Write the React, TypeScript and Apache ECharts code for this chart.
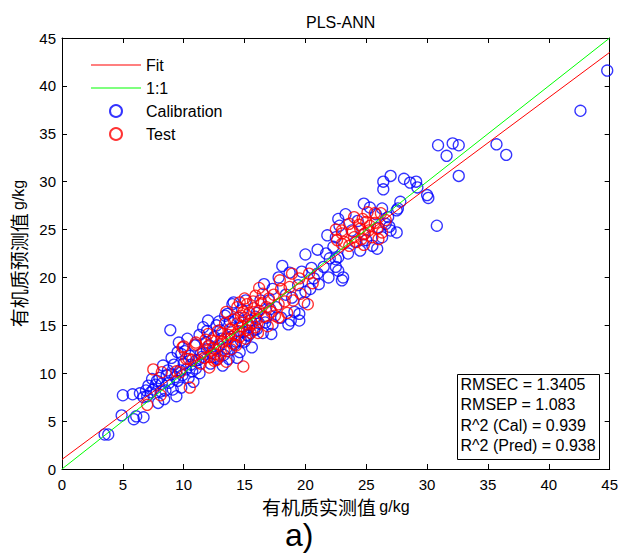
import React, { useEffect, useRef } from "react";
import * as echarts from "echarts";

const FONT = "'Liberation Sans', Arial, 'Noto Sans CJK SC', sans-serif";
const CJK = "'Noto Sans CJK SC', 'Liberation Sans', sans-serif";

const chartTitle = "PLS-ANN";
const xName = "有机质实测值";
const yName = "有机质预测值";
const unit = "g/kg";
const legendNames = ["Fit", "1:1", "Calibration", "Test"];
const statsLines = [
  "RMSEC = 1.3405",
  "RMSEP = 1.083",
  "R^2 (Cal) = 0.939",
  "R^2 (Pred) = 0.938",
];
const panelLabel = "a)";

const axisMin = 0;
const axisMax = 45;
const axisStep = 5;

const fitLine = [
  [0, 1.0],
  [45, 43.5],
];
const identityLine = [
  [0, 0],
  [45, 45],
];

const calibration = [
  [3.5, 3.6], [3.8, 3.6], [4.9, 5.6], [5.9, 5.2], [6.7, 5.4], [6.1, 5.5],
  [5.0, 7.7], [5.8, 7.8], [6.4, 7.9], [6.7, 7.5], [7.1, 8.7], [7.5, 8.3], [7.9, 6.9], [8.4, 7.3], [9.4, 7.6], [8.2, 8.9],
  [8.9, 14.5], [9.6, 13.2], [9.0, 11.6], [8.7, 10.3], [9.3, 9.6], [9.7, 10.3], [9.8, 8.5], [7.3, 8.0], [7.0, 7.6], [7.7, 8.8],
  [8.5, 8.2], [8.8, 9.0], [9.1, 8.3], [8.0, 9.5], [8.6, 9.8], [9.5, 9.2], [9.9, 9.8], [10.2, 10.4], [9.2, 10.9], [10.0, 11.0],
  [10.4, 9.5], [10.7, 10.2], [10.1, 12.3], [10.5, 11.8], [9.5, 12.2], [10.9, 12.9], [11.2, 11.4], [11.0, 10.5], [8.3, 10.8],
  [7.8, 9.2], [6.9, 8.2], [10.3, 13.6], [9.8, 12.0], [10.8, 9.1], [11.3, 10.0], [9.0, 9.9], [8.1, 8.1], [7.4, 9.4],
  [11.6, 14.8], [12.7, 15.0], [12.0, 15.5], [11.3, 14.0], [11.8, 13.2], [12.3, 12.1], [12.8, 11.5], [13.2, 10.8], [13.5, 12.6],
  [12.5, 13.8], [13.0, 14.5], [13.8, 15.4], [14.1, 17.4], [14.0, 17.2], [13.6, 16.2], [14.5, 15.8], [14.8, 16.6], [15.1, 17.6],
  [16.3, 17.6], [15.6, 12.7], [14.6, 12.2], [14.2, 13.0], [15.2, 14.0], [15.8, 14.5], [16.2, 15.2], [16.8, 15.8], [17.3, 15.1],
  [18.0, 15.8], [18.6, 15.1], [17.1, 16.7], [16.0, 16.3], [15.5, 15.5], [14.9, 14.3], [13.9, 13.8], [12.9, 12.8], [11.9, 12.5],
  [12.2, 11.0], [11.4, 12.0], [13.3, 11.9], [14.4, 11.6], [15.0, 13.3], [16.5, 14.2], [17.6, 16.9], [17.0, 17.6], [12.5, 11.7],
  [13.6, 12.3], [14.3, 13.3], [15.3, 13.9], [16.0, 14.6], [16.7, 15.3], [11.0, 11.3], [10.6, 10.9], [12.9, 15.4], [13.4, 16.0],
  [11.9, 14.4], [17.2, 14.1], [18.8, 15.5], [19.5, 16.2], [12.1, 12.9], [13.1, 13.6], [14.0, 14.7], [14.7, 13.4], [15.4, 14.8],
  [13.7, 11.5], [12.6, 12.5], [11.5, 11.7], [14.8, 15.3], [15.9, 15.9],
  [16.6, 19.3], [17.3, 18.8], [17.8, 20.0], [18.1, 21.2], [18.7, 20.5], [18.4, 18.2], [19.1, 16.4], [19.5, 15.5], [19.9, 17.4],
  [18.9, 17.9], [19.4, 19.2], [20.0, 18.5], [20.4, 18.8], [21.1, 19.3], [21.0, 20.4], [21.5, 21.1], [21.9, 20.0], [22.7, 20.7],
  [23.0, 19.7], [22.0, 22.0], [20.0, 22.4], [21.0, 22.9], [21.7, 22.5], [22.5, 21.9], [21.8, 24.4], [22.3, 23.2], [22.7, 22.1],
  [22.5, 21.1], [23.1, 20.0], [22.7, 26.1], [22.5, 24.2], [22.8, 25.4], [20.5, 21.0], [19.7, 20.6], [20.7, 19.9],
  [24.1, 23.7], [25.5, 23.3], [26.3, 24.2], [26.6, 25.6], [26.8, 26.3], [24.8, 27.7], [27.8, 27.9], [27.5, 27.0], [30.8, 25.4],
  [27.0, 24.9], [27.5, 24.7], [26.3, 27.2], [27.0, 30.6], [26.4, 30.0], [26.4, 29.2], [28.1, 30.3], [28.6, 29.9], [29.1, 30.0],
  [29.2, 29.4], [30.0, 28.6], [30.1, 28.3], [30.9, 33.8], [32.1, 34.0], [32.6, 33.8], [31.6, 32.7], [35.7, 33.9], [36.5, 32.8],
  [32.6, 30.6], [42.6, 37.4], [44.8, 41.6], [23.5, 22.5], [24.5, 22.8], [25.0, 23.9], [26.0, 25.2], [25.8, 26.6], [26.9, 25.3],
  [23.8, 24.9], [24.3, 25.9], [25.3, 27.3], [23.3, 26.6], [25.9, 23.0], [24.8, 24.5], [27.6, 27.2],
];

const test = [
  [7.5, 10.4], [8.2, 10.1], [7.0, 6.7], [8.1, 7.7], [9.7, 10.1], [10.0, 12.8], [10.4, 11.5], [10.5, 8.5], [14.9, 10.7],
  [11.0, 13.2], [9.9, 12.7], [10.2, 11.5], [11.7, 11.6], [12.5, 11.3], [9.4, 10.2], [10.7, 11.4], [12.0, 14.1], [11.0, 13.0],
  [13.5, 16.4], [14.4, 16.9], [15.2, 17.2], [15.9, 18.1],
  [11.6, 12.2], [12.0, 12.8], [12.3, 13.4], [12.6, 12.0], [12.9, 13.0], [13.1, 14.2], [13.3, 12.4], [13.6, 13.6], [13.8, 14.6],
  [14.0, 13.1], [14.2, 14.0], [14.4, 15.2], [14.6, 13.8], [14.8, 14.9], [15.0, 15.8], [15.2, 14.5], [15.4, 16.3], [15.6, 15.2],
  [15.8, 16.8], [16.0, 15.6], [12.2, 11.7], [12.8, 14.4], [13.4, 15.2], [13.0, 11.8], [13.9, 12.5], [14.3, 12.9], [14.7, 16.0],
  [15.1, 13.6], [15.5, 14.2], [15.9, 14.8], [16.2, 16.5], [16.4, 17.3], [16.6, 15.9], [16.8, 16.9], [17.0, 17.8], [17.2, 16.4],
  [13.7, 14.0], [14.1, 15.6], [14.5, 14.4], [12.4, 12.6], [11.8, 13.5], [13.2, 13.3], [14.9, 16.4], [15.3, 15.1], [16.1, 14.2],
  [12.7, 11.4], [13.5, 11.2], [11.4, 11.0], [12.1, 10.6], [15.7, 17.5], [14.6, 17.4], [16.9, 14.9], [17.5, 16.0], [17.8, 17.2],
  [18.0, 18.8], [18.7, 19.0], [19.5, 19.9], [19.6, 18.3], [20.2, 17.2], [20.3, 20.4], [16.5, 18.3], [17.8, 15.8], [17.4, 18.2],
  [18.3, 17.5], [18.5, 16.3], [19.0, 17.6], [16.2, 18.9], [15.0, 17.8], [17.9, 19.7], [18.9, 20.4], [20.6, 19.4],
  [23.0, 24.9], [23.0, 23.5], [25.1, 26.8], [25.7, 26.7], [26.2, 26.7], [26.3, 24.7], [23.6, 25.6], [23.0, 24.6], [23.2, 23.7],
  [24.0, 24.2], [24.5, 25.1], [24.9, 24.6], [25.3, 25.4], [24.7, 26.1], [24.2, 23.7], [23.6, 23.3], [25.5, 24.2], [25.9, 25.1],
  [24.0, 26.3], [24.4, 25.5], [25.0, 25.8], [24.6, 24.0], [25.7, 25.7], [26.6, 26.0], [22.6, 23.9], [23.9, 24.8], [24.8, 23.4],
  [25.2, 24.9], [26.0, 24.0], [22.5, 25.0],
];

const black = "#000";
const lineIcon = "path://M0 0H50V1H0Z";

export default function App() {
  const ref = useRef<HTMLDivElement>(null);
  useEffect(() => {
    if (!ref.current) return;
    const chart = echarts.init(ref.current, undefined, { renderer: "svg" });
    const baseAxis = {
      type: "value" as const,
      min: axisMin,
      max: axisMax,
      interval: axisStep,
      axisLine: { show: true, onZero: false, lineStyle: { color: black, width: 1 } },
      axisTick: { show: true, inside: true, length: 5, lineStyle: { color: black } },
      splitLine: { show: false },
    };
    const nameRich = {
      a: { fontFamily: CJK, fontSize: 19, color: black },
      b: { fontFamily: FONT, fontSize: 16, color: black },
    };
    chart.setOption({
      animation: false,
      backgroundColor: "#fff",
      textStyle: { fontFamily: FONT },
      title: {
        text: chartTitle,
        left: 301,
        top: 9,
        textStyle: { fontFamily: FONT, fontSize: 16, fontWeight: "normal", color: black },
      },
      grid: { left: 62, right: 10, top: 38, bottom: 85 },
      legend: {
        orient: "vertical",
        left: 86,
        top: 52,
        itemWidth: 50,
        itemHeight: 12,
        itemGap: 7,
        data: [
          { name: legendNames[0], icon: lineIcon },
          { name: legendNames[1], icon: lineIcon },
          { name: legendNames[2] },
          { name: legendNames[3] },
        ],
        textStyle: { fontFamily: FONT, fontSize: 16, color: black },
      },
      xAxis: [
        {
          ...baseAxis,
          position: "bottom",
          axisLabel: { color: black, fontSize: 15, fontFamily: FONT, margin: 8 },
          name: `{a|${xName}} {b|${unit}}`,
          nameLocation: "middle",
          nameGap: 24,
          nameTextStyle: { rich: nameRich },
        },
        { ...baseAxis, position: "top", axisLabel: { show: false } },
      ],
      yAxis: [
        {
          ...baseAxis,
          position: "left",
          axisLabel: { color: black, fontSize: 15, fontFamily: FONT, margin: 6 },
          name: `{a|${yName}} {b|${unit}}`,
          nameLocation: "middle",
          nameGap: 32,
          nameRotate: 90,
          nameTextStyle: { rich: nameRich },
        },
        { ...baseAxis, position: "right", axisLabel: { show: false } },
      ],
      series: [
        {
          name: legendNames[0],
          type: "line",
          data: fitLine,
          symbol: "none",
          lineStyle: { color: "#ff0000", width: 1 },
          itemStyle: { color: "#ff0000" },
        },
        {
          name: legendNames[1],
          type: "line",
          data: identityLine,
          symbol: "none",
          lineStyle: { color: "#00ff00", width: 1 },
          itemStyle: { color: "#00ff00" },
        },
        {
          name: legendNames[2],
          type: "scatter",
          data: calibration,
          symbol: "circle",
          symbolSize: 11,
          itemStyle: { color: "rgba(0,0,0,0)", borderColor: "#0000ff", borderWidth: 1.3 },
        },
        {
          name: legendNames[3],
          type: "scatter",
          data: test,
          symbol: "circle",
          symbolSize: 11,
          itemStyle: { color: "rgba(0,0,0,0)", borderColor: "#ff0000", borderWidth: 1.3 },
        },
      ],
      graphic: [
        {
          type: "group",
          left: 457,
          top: 374,
          z: 100,
          children: [
            {
              type: "rect",
              shape: { x: 0, y: 0, width: 142, height: 85 },
              style: { fill: "#fff", stroke: black, lineWidth: 1 },
            },
            ...statsLines.map((t, i) => ({
              type: "text",
              x: 3,
              y: 2 + i * 20.4,
              style: { text: t, fontSize: 16, fontFamily: FONT, fill: black },
            })),
          ],
        },
        {
          type: "text",
          left: 285,
          top: 519,
          style: { text: panelLabel, fontSize: 32, lineHeight: 32, fontFamily: FONT, fill: black },
        },
      ],
    });
    return () => chart.dispose();
  }, []);
  return (
    <div
      ref={ref}
      style={{ position: "fixed", left: 0, top: 0, width: 621, height: 554 }}
    />
  );
}
